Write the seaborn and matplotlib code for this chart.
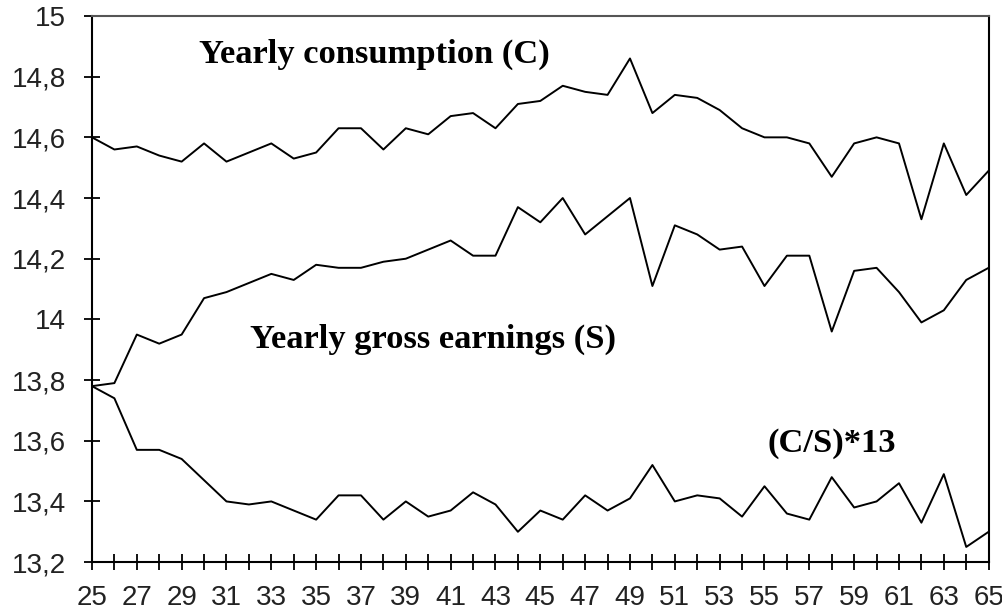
import numpy as np
import pandas as pd
import matplotlib
matplotlib.use("Agg")
import matplotlib.pyplot as plt
import seaborn as sns

# age in years
ages = list(range(25, 66))

# yearly consumption (C), log scale
consumption = [14.60, 14.56, 14.57, 14.54, 14.52, 14.58, 14.52, 14.55, 14.58, 14.53,
               14.55, 14.63, 14.63, 14.56, 14.63, 14.61, 14.67, 14.68, 14.63, 14.71,
               14.72, 14.77, 14.75, 14.74, 14.86, 14.68, 14.74, 14.73, 14.69, 14.63,
               14.60, 14.60, 14.58, 14.47, 14.58, 14.60, 14.58, 14.33, 14.58, 14.41,
               14.49]

# yearly gross earnings (S)
earnings = [13.78, 13.79, 13.95, 13.92, 13.95, 14.07, 14.09, 14.12, 14.15, 14.13,
            14.18, 14.17, 14.17, 14.19, 14.20, 14.23, 14.26, 14.21, 14.21, 14.37,
            14.32, 14.40, 14.28, 14.34, 14.40, 14.11, 14.31, 14.28, 14.23, 14.24,
            14.11, 14.21, 14.21, 13.96, 14.16, 14.17, 14.09, 13.99, 14.03, 14.13,
            14.17]

# ratio (C/S)*13
ratio = [13.78, 13.74, 13.57, 13.57, 13.54, 13.47, 13.40, 13.39, 13.40, 13.37,
         13.34, 13.42, 13.42, 13.34, 13.40, 13.35, 13.37, 13.43, 13.39, 13.30,
         13.37, 13.34, 13.42, 13.37, 13.41, 13.52, 13.40, 13.42, 13.41, 13.35,
         13.45, 13.36, 13.34, 13.48, 13.38, 13.40, 13.46, 13.33, 13.49, 13.25,
         13.30]

y_ticks = [13.2, 13.4, 13.6, 13.8, 14.0, 14.2, 14.4, 14.6, 14.8, 15.0]
y_tick_labels = ["13,2", "13,4", "13,6", "13,8", "14", "14,2", "14,4", "14,6", "14,8", "15"]

df = pd.DataFrame({"Age": ages, "C": consumption, "S": earnings, "R": ratio})

sns.set_style("white")
plt.rcParams["font.family"] = ["Liberation Sans", "DejaVu Sans"]

fig = plt.figure(figsize=(10.03, 6.15), dpi=100)
ax = fig.add_axes([0.0917, 0.086, 0.894, 0.888])

for col in ["C", "S", "R"]:
    sns.lineplot(data=df, x="Age", y=col, ax=ax, color="black", linewidth=1.4)

ax.set_xlim(25, 65)
ax.set_ylim(13.2, 15.0)
ax.set_xticks(ages)
ax.set_xticklabels([str(a) if a % 2 == 1 else "" for a in ages])
ax.set_yticks(y_ticks)
ax.set_yticklabels(y_tick_labels)
ax.set_xlabel("")
ax.set_ylabel("")

ax.tick_params(axis="both", direction="inout", length=11, width=1.3, color="black",
               labelsize=20, labelcolor="#222222", bottom=True, left=True,
               top=False, right=False)
ax.tick_params(axis="x", pad=11)
ax.tick_params(axis="y", pad=13)

for side in ["left", "right", "bottom", "top"]:
    ax.spines[side].set_visible(True)
    ax.spines[side].set_color("black")
    ax.spines[side].set_linewidth(1.5)
ax.spines["top"].set_color("#555555")

txt = dict(family=["Liberation Serif", "DejaVu Serif"], fontweight="bold",
           fontsize=24.8, color="black", ha="center", va="baseline")
ax.text(37.6, 14.845, "Yearly consumption (C)", **txt)
ax.text(40.2, 13.905, "Yearly gross earnings (S)", **txt)
ax.text(58.0, 13.565, "(C/S)*13", **txt)

fig.savefig("out.png", dpi=100)
